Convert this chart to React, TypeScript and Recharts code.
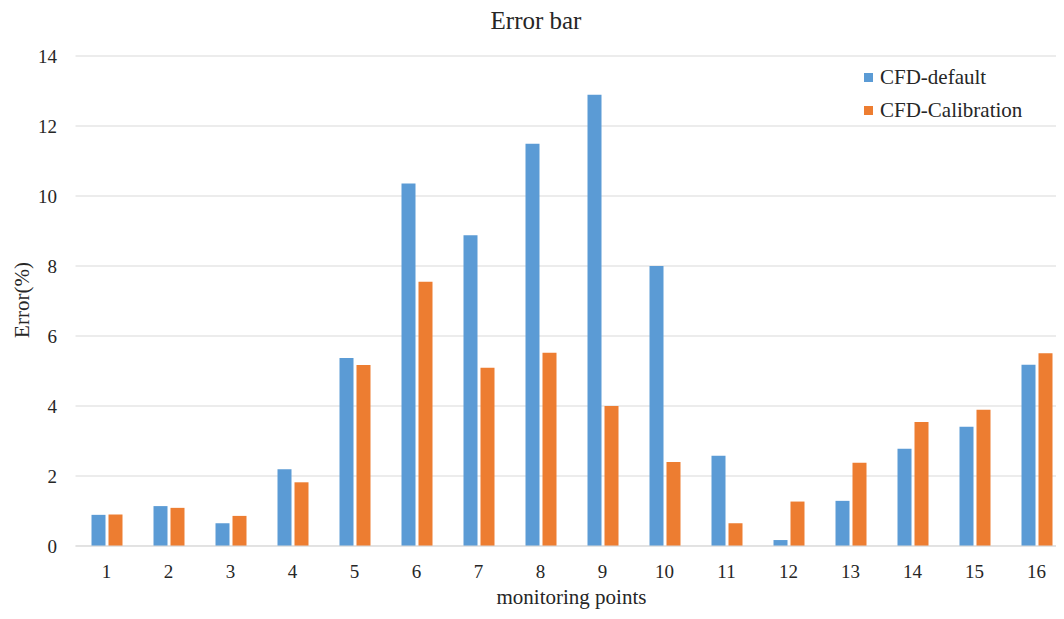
import React from "react"
import {
  BarChart, Bar, XAxis, YAxis, CartesianGrid,
} from "recharts"

const points = ["1", "2", "3", "4", "5", "6", "7", "8", "9", "10", "11", "12", "13", "14", "15", "16"]
const cfdDefault = [0.89, 1.14, 0.65, 2.19, 5.37, 10.36, 8.88, 11.49, 12.89, 8.0, 2.58, 0.17, 1.29, 2.78, 3.41, 5.18]
const cfdCalibration = [0.9, 1.09, 0.86, 1.82, 5.17, 7.55, 5.09, 5.52, 4.0, 2.4, 0.65, 1.27, 2.38, 3.54, 3.89, 5.51]
const yTicks = [0, 2, 4, 6, 8, 10, 12, 14]

const BLUE = "#5B9BD5"
const ORANGE = "#ED7D31"
const FONT = "'Liberation Serif', 'Times New Roman', serif"
const TEXT = "#262626"

const data = points.map((p, i) => ({
  point: p,
  "CFD-default": cfdDefault[i],
  "CFD-Calibration": cfdCalibration[i],
}))

const legendItems = [
  { name: "CFD-default", color: BLUE },
  { name: "CFD-Calibration", color: ORANGE },
]

// titles and legend drawn on top of the chart svg
const Overlay: React.FC = () => (
  <svg
    width={1064}
    height={619}
    style={{ position: "absolute", left: 0, top: 0, pointerEvents: "none" }}
  >
    <text x={536} y={28.5} textAnchor="middle" fontFamily={FONT} fontSize={25} fill={TEXT}>
      Error bar
    </text>
    <text x={571.5} y={604} textAnchor="middle" fontFamily={FONT} fontSize={21} fill={TEXT}>
      monitoring points
    </text>
    <text
      x={29}
      y={300}
      transform="rotate(-90 29 300)"
      textAnchor="middle"
      fontFamily={FONT}
      fontSize={21}
      fill={TEXT}
    >
      Error(%)
    </text>
    {legendItems.map((item, i) => (
      <g key={item.name} transform={`translate(864, ${73 + i * 33})`}>
        <rect x={0} y={0} width={9} height={9} fill={item.color} />
        <text x={16} y={10.5} fontFamily={FONT} fontSize={21} fill={TEXT}>{item.name}</text>
      </g>
    ))}
  </svg>
)

export default function App() {
  return (
    <div style={{ margin: -8, width: 1064, height: 619, overflow: "hidden", position: "relative", background: "#fff" }}>
      <BarChart
        width={1080}
        height={619}
        data={data}
        margin={{ top: 56, right: 12.5, bottom: 43, left: 15.5 }}
        barCategoryGap="25%"
        barGap={3}
      >
        <CartesianGrid vertical={false} stroke="#D9D9D9" strokeWidth={1} />
        <XAxis
          dataKey="point"
          height={30}
          stroke="#D9D9D9"
          tickLine={false}
          tickMargin={13}
          tick={{ fontFamily: FONT, fontSize: 19, fill: TEXT }}
          interval={0}
        />
        <YAxis
          width={60}
          domain={[0, 14]}
          ticks={yTicks}
          axisLine={false}
          tickLine={false}
          tickMargin={12.5}
          tick={{ fontFamily: FONT, fontSize: 19, fill: TEXT }}
        />
        <Bar dataKey="CFD-default" fill={BLUE} barSize={14} isAnimationActive={false} />
        <Bar dataKey="CFD-Calibration" fill={ORANGE} barSize={14} isAnimationActive={false} />
      </BarChart>
      <Overlay />
    </div>
  )
}
